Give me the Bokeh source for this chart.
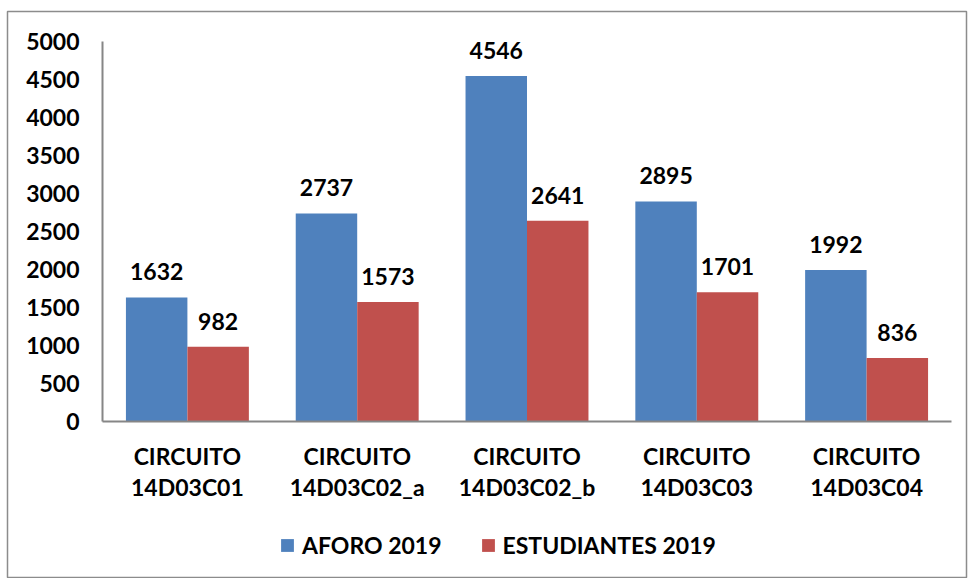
from bokeh.plotting import figure
from bokeh.models import (ColumnDataSource, Legend, LegendItem, Range1d,
                          LinearAxis, FixedTicker)
from bokeh.core.properties import value
from bokeh.embed import file_html
from bokeh.resources import INLINE

categories = ["14D03C01", "14D03C02_a", "14D03C02_b", "14D03C03", "14D03C04"]
cat_prefix = "CIRCUITO"
aforo = [1632, 2737, 4546, 2895, 1992]
estudiantes = [982, 1573, 2641, 1701, 836]
series_names = ["AFORO 2019", "ESTUDIANTES 2019"]
y_ticks = list(range(0, 5001, 500))

FONT = "Lato"
FS = "23px"
BLUE = "#4F81BD"
RED = "#C0504D"
GRAY = "#868686"

# layout constants (pixels)
W, H = 968, 578
FR_L, FR_R, FR_T, FR_B = 7, 966, 11, 578     # outer box (frame)
AX_L, AX_R, AX_T, AX_B = 102, 951, 41, 421   # axes area
n = len(categories)
ppx = (AX_R - AX_L) / n
ppy = (AX_B - AX_T) / 5000

centers = [i + 0.5 for i in range(n)]
w = 0.362
src = ColumnDataSource(dict(xc=centers, cat=categories,
                            xa=[c - w / 2 for c in centers],
                            xe=[c + w / 2 for c in centers],
                            aforo=aforo, est=estudiantes,
                            aforo_t=[str(v) for v in aforo],
                            est_t=[str(v) for v in estudiantes],
                            pre=[cat_prefix] * n, zero=[0] * n))

xr = Range1d(-(AX_L - FR_L) / ppx, n + (FR_R - AX_R) / ppx)
yr = Range1d(-(FR_B - AX_B) / ppy, 5000 + (AX_T - FR_T) / ppy)

p = figure(x_range=xr, y_range=yr, x_axis_type=None, y_axis_type=None,
           width=W, height=H, output_backend="svg", toolbar_location=None,
           min_border_left=FR_L, min_border_right=W - FR_R,
           min_border_top=FR_T, min_border_bottom=H - FR_B)
p.outline_line_color = "#8c8c8c"
p.outline_line_width = 1.5
p.xgrid.grid_line_color = None
p.ygrid.grid_line_color = None

r1 = p.vbar(x="xa", top="aforo", width=w, source=src,
            fill_color=BLUE, line_color=None)
r2 = p.vbar(x="xe", top="est", width=w, source=src,
            fill_color=RED, line_color=None)

for xcol, yc, tcol in (("xa", "aforo", "aforo_t"), ("xe", "est", "est_t")):
    p.text(x=xcol, y=yc, text=tcol, source=src,
           text_align="center", text_baseline="bottom", y_offset=-17,
           text_font=value(FONT), text_font_style="bold",
           text_font_size=FS, text_color="black")

for tcol, off in (("pre", 34), ("cat", 65)):
    p.text(x="xc", y="zero", text=tcol, source=src,
           text_align="center", text_baseline="middle", y_offset=off,
           text_font=value(FONT), text_font_style="bold",
           text_font_size=FS, text_color="black")

yax = LinearAxis(fixed_location=0, bounds=(0, 5000),
                 ticker=FixedTicker(ticks=y_ticks))
yax.major_tick_line_color = None
yax.minor_tick_line_color = None
yax.axis_line_color = GRAY
yax.axis_line_width = 2
yax.major_label_standoff = 17
yax.major_label_text_font = FONT
yax.major_label_text_font_style = "bold"
yax.major_label_text_font_size = FS
yax.major_label_text_color = "black"
p.add_layout(yax, "left")

xax = LinearAxis(fixed_location=0, bounds=(0, n), ticker=FixedTicker(ticks=[]))
xax.major_tick_line_color = None
xax.minor_tick_line_color = None
xax.axis_line_color = GRAY
xax.axis_line_width = 2
p.add_layout(xax, "below")

legend = Legend(items=[LegendItem(label=series_names[0], renderers=[r1]),
                       LegendItem(label=series_names[1], renderers=[r2])],
                orientation="horizontal", location=(272, 19),
                glyph_width=16, glyph_height=16, label_standoff=7, spacing=38,
                label_text_font=FONT, label_text_font_style="bold",
                label_text_font_size=FS, label_text_color="black",
                border_line_color=None, background_fill_alpha=0)
p.add_layout(legend, "center")

open("out.html", "w").write(file_html(p, INLINE))
